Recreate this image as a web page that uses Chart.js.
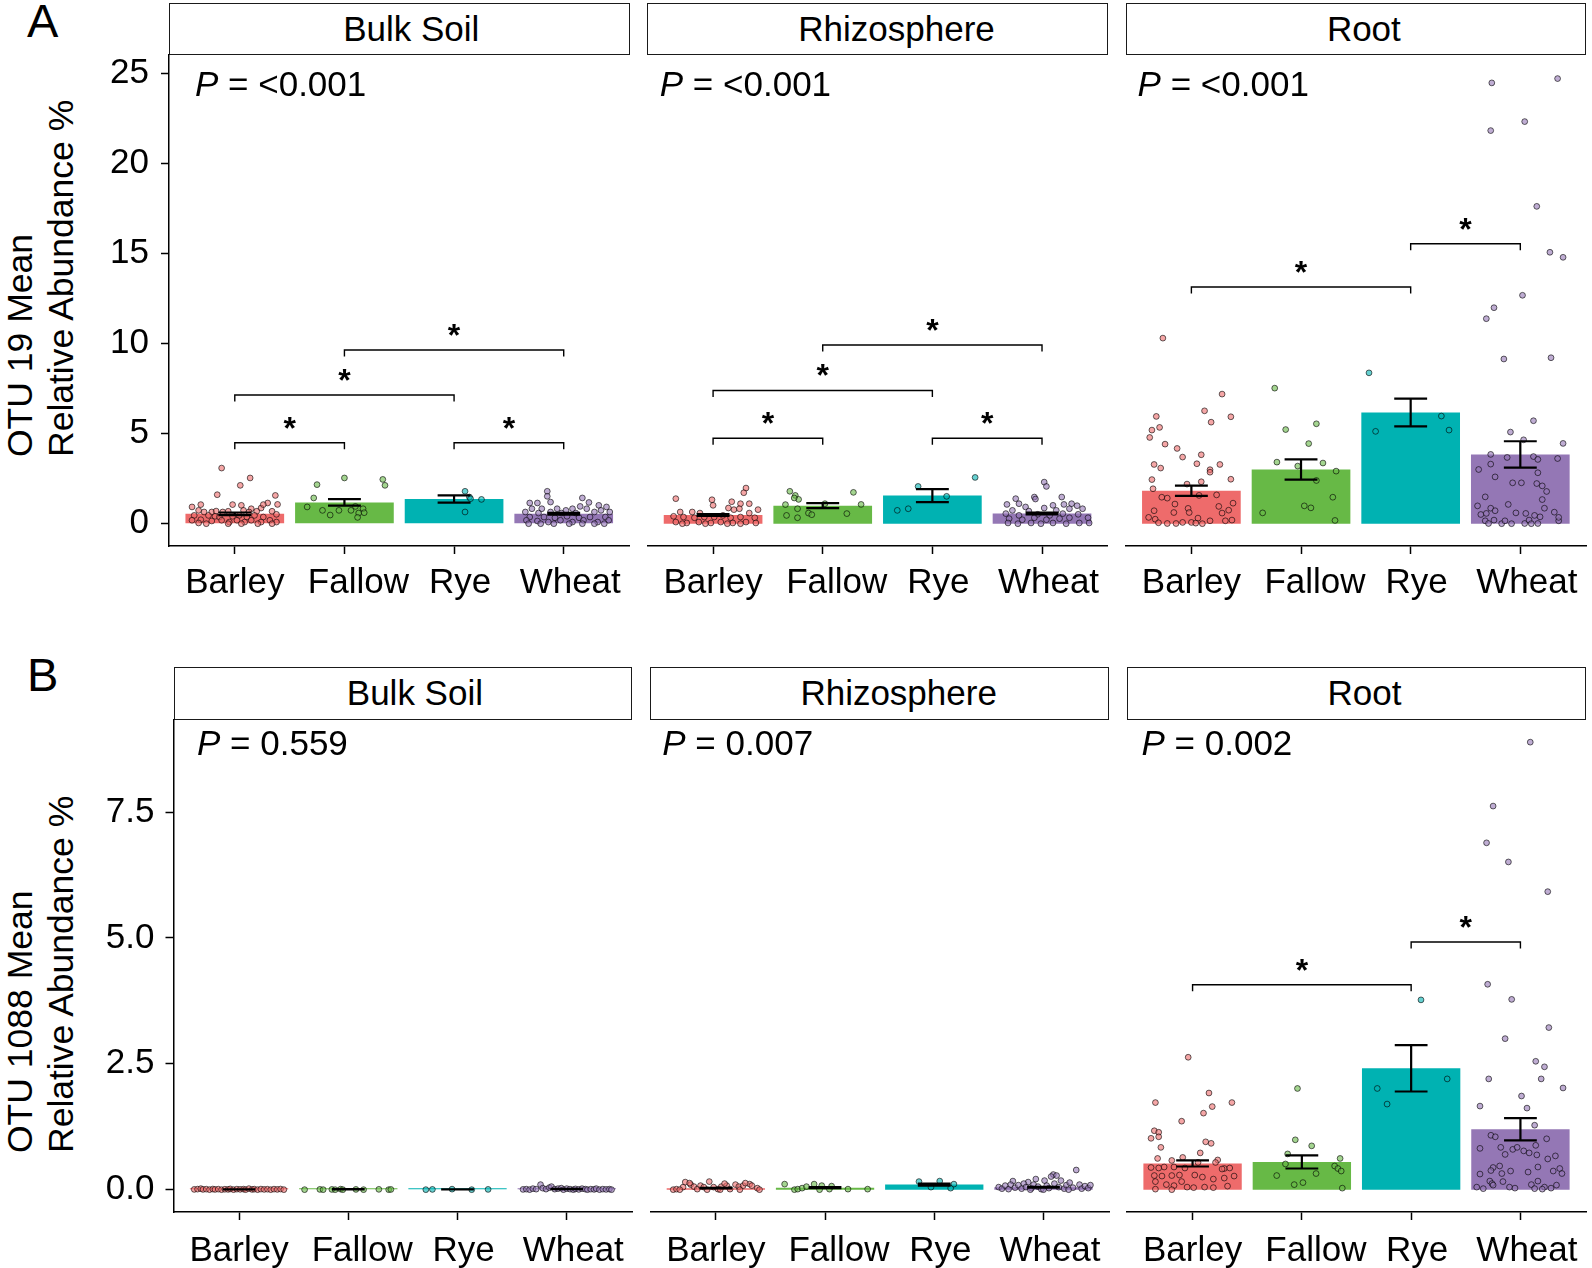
<!DOCTYPE html>
<html>
<head>
<meta charset="utf-8">
<script src="https://cdn.jsdelivr.net/npm/chart.js@4.4.1/dist/chart.umd.min.js"></script>
<style>
html,body{margin:0;padding:0;background:#fff;}
body{width:1592px;height:1268px;position:relative;overflow:hidden;font-family:'Liberation Sans',Arial,Helvetica,sans-serif;color:#000;}
.strip{position:absolute;box-sizing:border-box;border:1.5px solid #1a1a1a;background:#fff;text-align:center;font-size:35px;}
.letter{position:absolute;font-size:47px;line-height:47px;}
.ytitle{position:absolute;transform-origin:0 0;transform:rotate(-90deg);white-space:pre;font-size:35.5px;line-height:41px;text-align:left;}
canvas{position:absolute;}
</style>
</head>
<body>
<script>
// ---------------- data ----------------
const categories = ['Barley', 'Fallow', 'Rye', 'Wheat'];
const compartments = ['Bulk Soil', 'Rhizosphere', 'Root'];

// OTU 19 (A)
const otu19Ticks = [0, 5, 10, 15, 20, 25];
const otu19TickLabels = ['0', '5', '10', '15', '20', '25'];
const otu19Means = [[0.55, 1.18, 1.37, 0.55], [0.48, 1.0, 1.56, 0.56], [1.83, 3.01, 6.18, 3.85]];
const otu19SE = [[0.07, 0.18, 0.2, 0.05], [0.05, 0.14, 0.36, 0.05], [0.28, 0.56, 0.77, 0.73]];
const otu19P = ['<0.001', '<0.001', '<0.001'];
// [group a, group b, bracket height]
const otu19Brackets = [
  [[0, 1, 4.5], [2, 3, 4.5], [0, 2, 7.15], [1, 3, 9.65]],
  [[0, 1, 4.75], [2, 3, 4.75], [0, 2, 7.4], [1, 3, 9.93]],
  [[0, 2, 13.15], [2, 3, 15.55]]
];

// OTU 1088 (B)
const otu1088Ticks = [0, 2.5, 5, 7.5];
const otu1088TickLabels = ['0.0', '2.5', '5.0', '7.5'];
const otu1088Means = [[0.006, 0.008, 0.005, 0.012], [0.03, 0.04, 0.1, 0.05], [0.52, 0.55, 2.41, 1.2]];
const otu1088SE = [[0.001, 0.002, 0.002, 0.003], [0.005, 0.01, 0.02, 0.008], [0.06, 0.13, 0.46, 0.22]];
const otu1088P = ['0.559', '0.007', '0.002'];
const otu1088Brackets = [[], [], [[0, 2, 4.07], [2, 3, 4.92]]];

// individual samples: [jitter offset from the category, relative abundance %]
const otu19BulkPts = [
  [[-0.12,3.09],[0.14,2.54],[0.05,2.13],[-0.16,1.61],[0.37,1.57],[0.3,1.15],[0.39,1.07],[-0.39,0.93],[-0.31,1.06],[-0.02,1.06],[0.06,1.02],[0.15,0.83],[0.24,0.87],[0.26,1.06],[-0.33,0.74],[-0.28,0.65],[-0.21,0.65],[-0.17,0.7],[-0.11,0.65],[-0.06,0.69],[0.08,0.74],[0.13,0.65],[0.2,0.69],[0.34,0.69],[-0.37,0.46],[-0.24,0.46],[-0.18,0.41],[-0.14,0.37],[-0.02,0.41],[0.04,0.46],[0.11,0.37],[0.18,0.46],[0.26,0.37],[0.38,0.52],[-0.39,0.19],[-0.31,0.22],[-0.21,0.15],[-0.12,0.19],[-0.05,0.09],[0.02,0.19],[0.09,0.09],[0.15,0.19],[0.24,0.09],[0.32,0.19],[0.38,0.09],[-0.26,0],[-0.06,0],[0.06,0],[0.21,0],[0.34,0],[-0.33,0.04]],
  [[0,2.54],[0.35,2.46],[0.37,2.13],[-0.25,2.17],[-0.28,1.43],[-0.34,0.93],[0.1,0.96],[0.17,0.83],[-0.2,0.74],[-0.05,0.74],[0.06,0.74],[0.13,0.59],[-0.13,0.48],[0.12,0.35],[0.18,0.61]],
  [[0.1,1.8],[0.14,1.48],[0.25,1.35],[0.15,1.39],[0.1,0.65]],
  [[-0.15,1.8],[-0.15,1.52],[-0.24,1.15],[-0.31,1.15],[-0.12,1.2],[0.17,1.43],[0.23,1.18],[0.32,1.02],[0.39,0.93],[0.08,0.83],[0.15,0.96],[0.21,0.83],[-0.29,0.83],[-0.2,0.83],[-0.06,0.83],[0.02,0.74],[0.34,0.74],[-0.35,0.65],[-0.23,0.59],[-0.12,0.65],[-0.02,0.59],[0.11,0.59],[0.28,0.65],[0.42,0.65],[-0.31,0.37],[-0.18,0.37],[-0.08,0.33],[0.03,0.41],[0.14,0.33],[0.24,0.37],[0.38,0.37],[-0.34,0.19],[-0.24,0.15],[-0.14,0.09],[-0.03,0.19],[0.08,0.09],[0.18,0.19],[0.31,0.09],[0.41,0.19],[-0.32,0],[-0.21,0],[-0.09,0],[0.05,0],[0.17,0],[0.28,0],[0.37,0]]
];
const otu19RhizoPts = [
  [[0.3,1.98],[0.28,1.72],[-0.34,1.39],[-0.01,1.33],[0,1.02],[0.17,1.22],[0.25,1.11],[0.33,1.11],[0.41,0.78],[-0.3,0.65],[-0.19,0.65],[-0.12,0.59],[0.14,0.87],[0.19,0.78],[0.24,0.83],[0.33,0.59],[-0.36,0.41],[-0.27,0.37],[-0.17,0.33],[-0.08,0.37],[0.01,0.37],[0.09,0.46],[0.16,0.33],[0.25,0.37],[0.38,0.33],[-0.34,0.09],[-0.24,0.04],[-0.13,0.09],[-0.02,0.04],[0.07,0.09],[0.18,0.04],[0.3,0.09],[0.39,0.04],[-0.28,0],[-0.07,0],[0.13,0],[0.25,0]],
  [[-0.3,1.8],[-0.25,1.57],[-0.22,1.35],[-0.26,1.43],[0.28,1.74],[-0.34,1.06],[0.35,1.07],[-0.23,0.83],[0.02,1.11],[-0.33,0.46],[-0.23,0.33],[-0.13,0.59],[-0.1,0.5],[0.22,0.56]],
  [[0.39,2.57],[-0.13,2.07],[0.13,1.52],[-0.32,0.74],[-0.22,0.83]],
  [[0.02,2.31],[0.04,2.07],[-0.07,1.48],[-0.06,1.37],[-0.24,1.39],[-0.21,1.11],[-0.32,1.07],[0.18,1.48],[0.2,1.07],[0.27,1.11],[0.32,1.0],[0.1,1.02],[-0.15,0.93],[0.02,0.87],[-0.27,0.74],[-0.12,0.7],[0.13,0.74],[0.25,0.83],[0.37,0.83],[-0.33,0.56],[-0.21,0.46],[-0.04,0.52],[0.07,0.46],[0.19,0.56],[0.33,0.52],[-0.3,0.28],[-0.18,0.22],[-0.07,0.33],[0.04,0.22],[0.16,0.28],[0.25,0.33],[0.42,0.33],[-0.31,0.04],[-0.22,0],[-0.1,0.04],[-0.01,0],[0.1,0.04],[0.22,0],[0.34,0.04],[0.43,0.04]]
];
const otu19RootPts = [
  [[-0.26,10.31],[0.28,7.2],[0.12,6.27],[0.18,5.64],[0.36,5.94],[-0.32,5.96],[-0.36,5.2],[-0.29,5.35],[-0.38,4.79],[-0.24,4.42],[-0.13,4.18],[-0.08,3.7],[0.09,3.83],[-0.34,3.29],[-0.28,3.09],[0.05,3.33],[0.17,3.0],[0.26,3.29],[0.17,2.86],[-0.36,2.45],[-0.04,2.2],[0.09,2.33],[0.36,2.47],[-0.35,1.94],[-0.27,1.47],[-0.22,1.42],[-0.15,1.09],[0.07,1.57],[0.23,1.6],[-0.39,0.35],[-0.33,0.25],[-0.3,0.05],[-0.22,0.01],[-0.16,0.62],[-0.08,0.07],[-0.03,0.85],[-0.02,0.62],[0,0.07],[0.06,0.31],[0.1,0],[0.17,0.16],[0.25,0.96],[0.28,0.59],[0.31,0.16],[0.34,0.75],[0.38,1.14],[0.37,0.2],[0.04,0.03],[-0.34,0.72],[-0.14,0.01]],
  [[-0.24,7.53],[0.14,5.55],[-0.14,5.23],[0.07,4.45],[-0.22,3.42],[-0.03,3.2],[0.2,3.37],[0.32,2.92],[0.14,2.4],[0.29,1.47],[0.03,0.99],[0.09,0.88],[-0.35,0.6],[0.31,0.18]],
  [[-0.38,8.38],[0.28,5.98],[-0.32,5.13],[0.35,5.2]],
  [[-0.26,24.49],[0.34,24.73],[-0.27,21.84],[0.04,22.34],[0.15,17.63],[0.27,15.08],[0.39,14.8],[0.02,12.69],[-0.24,12.0],[-0.31,11.39],[-0.15,9.15],[0.28,9.22],[0.12,5.72],[-0.09,5.09],[0.03,4.66],[0.39,4.46],[-0.27,3.85],[-0.12,3.68],[0.12,3.73],[0.16,3.57],[0.34,3.62],[-0.27,3.31],[-0.38,3.01],[0.16,2.83],[-0.23,2.6],[-0.07,2.27],[0.01,2.27],[0.15,2.23],[0.2,2.1],[0.24,1.79],[-0.32,1.49],[0.2,1.34],[-0.11,1.07],[-0.39,0.99],[-0.27,0.86],[-0.23,0.72],[-0.36,0.51],[-0.31,0.57],[0.22,0.86],[-0.04,0.6],[0.05,0.57],[0.13,0.46],[0.31,0.64],[-0.32,0.16],[-0.29,0.01],[-0.24,0.2],[-0.17,0],[-0.14,0.16],[-0.08,0],[0.04,0.01],[0.08,0.2],[0.1,0],[0.16,0.01],[0.18,0.38],[0.35,0.16],[0.35,0.35]]
];
const otu1088BulkPts = [
  [[-0.41,0.005],[-0.38,0.01],[-0.35,0.02],[-0.33,0.005],[-0.3,0.01],[-0.27,0.0],[-0.24,0.012],[-0.22,0.004],[-0.19,0.01],[-0.16,0.0],[-0.13,0.008],[-0.1,0.005],[-0.08,0.015],[-0.05,0.0],[-0.02,0.01],[0.01,0.006],[0.04,0.01],[0.06,0.0],[0.09,0.02],[0.12,0.004],[0.14,0.01],[0.17,0.0],[0.2,0.011],[0.23,0.005],[0.26,0.009],[0.29,0.0],[0.32,0.01],[0.35,0.005],[0.38,0.012],[0.41,0.0]],
  [[-0.4,0],[-0.26,0.005],[-0.23,0],[-0.15,0.004],[-0.12,0],[-0.07,0.01],[-0.05,0],[0.07,0.005],[0.14,0],[0.28,0.006],[0.37,0],[0.39,0.004]],
  [[-0.29,0],[-0.23,0.005],[-0.05,0.01],[0.13,0],[0.28,0.005]],
  [[-0.4,0.005],[-0.37,0.01],[-0.34,0.0],[-0.31,0.02],[-0.28,0.01],[-0.24,0.1],[-0.22,0.03],[-0.19,0.01],[-0.16,0.04],[-0.14,0.06],[-0.11,0.01],[-0.08,0.02],[-0.05,0.03],[-0.03,0.0],[0.0,0.02],[0.03,0.01],[0.06,0.0],[0.08,0.015],[0.11,0.005],[0.14,0.02],[0.17,0.01],[0.19,0.0],[0.22,0.01],[0.25,0.005],[0.27,0.02],[0.3,0.0],[0.33,0.01],[0.36,0.005],[0.39,0.01],[0.41,0.0]]
];
const otu1088RhizoPts = [
  [[-0.39,0],[-0.36,0.01],[-0.3,0.05],[-0.28,0.15],[-0.23,0.1],[-0.2,0.06],[-0.17,0.01],[-0.14,0.08],[-0.11,0.05],[-0.06,0.16],[-0.02,0.05],[0.02,0.01],[0.05,0.06],[0.1,0.08],[0.13,0.01],[0.18,0.1],[0.21,0.06],[0.25,0.08],[0.31,0.11],[0.33,0.08],[0.38,0.03],[0.4,0],[-0.33,0],[-0.08,0],[0.04,0],[0.22,0],[-0.24,0.13],[0.08,0.12],[0.27,0.13]],
  [[-0.37,0.11],[-0.28,0],[-0.25,0.01],[-0.21,0.03],[-0.17,0.06],[-0.1,0.11],[-0.05,0],[-0.03,0.08],[0.04,0.01],[0.06,0.07],[0.21,0.01],[0.39,0.01]],
  [[-0.14,0.16],[-0.03,0.05],[0.05,0.17],[0.15,0.03],[0.18,0.11]],
  [[0.3,0.39],[0.09,0.3],[0.12,0.28],[0.07,0.26],[-0.07,0.21],[0.01,0.18],[-0.28,0.17],[-0.14,0.15],[-0.41,0.05],[-0.38,0.02],[-0.35,0.08],[-0.32,0.01],[-0.3,0.1],[-0.26,0.04],[-0.23,0.09],[-0.2,0.02],[-0.18,0.12],[-0.16,0.05],[-0.11,0.03],[-0.09,0.1],[-0.05,0.06],[-0.02,0.01],[0.03,0.08],[0.05,0.03],[0.1,0.12],[0.14,0.05],[0.16,0.18],[0.19,0.02],[0.21,0.09],[0.24,0.14],[0.27,0.04],[0.33,0.1],[0.35,0.02],[0.38,0.07],[0.41,0.03],[0.43,0.09],[-0.12,0.0],[0.0,0.0],[0.23,0.0]]
];
const otu1088RootPts = [
  [[-0.04,2.63],[0.15,1.92],[-0.34,1.73],[0.36,1.73],[0.18,1.65],[0.1,1.52],[-0.1,1.36],[-0.35,1.17],[-0.31,1.14],[-0.38,1.02],[-0.31,1.05],[0.12,0.95],[0.17,0.92],[-0.29,0.84],[0.07,0.73],[-0.32,0.62],[-0.09,0.64],[0.23,0.59],[0.21,0.54],[0.05,0.54],[-0.19,0.58],[-0.38,0.44],[-0.31,0.43],[-0.26,0.45],[-0.17,0.45],[-0.07,0.43],[0.29,0.42],[0.34,0.43],[0.27,0.41],[-0.35,0.28],[-0.28,0.27],[-0.19,0.28],[-0.12,0.29],[0.02,0.29],[0.09,0.25],[0.19,0.21],[0.29,0.23],[0.38,0.27],[-0.34,0.16],[-0.24,0.1],[-0.17,0.08],[-0.1,0.16],[-0.05,0.05],[0.01,0.04],[0.11,0.05],[0.19,0.04],[0.32,0.07],[-0.34,0.01],[-0.19,0]],
  [[-0.04,2.01],[-0.06,0.99],[0.09,0.87],[-0.13,0.71],[0.35,0.62],[-0.15,0.51],[0.3,0.47],[0.33,0.42],[0.36,0.37],[-0.23,0.28],[0.13,0.32],[0.01,0.14],[-0.07,0.1],[0.37,0.03]],
  [[0.09,3.77],[0.33,2.2],[-0.31,2.01],[-0.22,1.7]],
  [[0.09,8.89],[-0.25,7.62],[-0.31,6.89],[-0.11,6.51],[0.25,5.92],[-0.3,4.08],[-0.08,3.78],[0.26,3.22],[-0.14,3.0],[0.14,2.55],[0.22,2.44],[-0.29,2.2],[0.19,2.2],[0.39,2.02],[0.01,1.86],[-0.37,1.66],[0.06,1.62],[0.13,1.28],[-0.27,1.08],[-0.23,1.05],[0.24,1.01],[-0.37,0.82],[-0.18,0.84],[-0.14,0.7],[-0.07,0.8],[-0.03,0.84],[0.03,0.77],[0.08,0.73],[0.14,0.88],[0.15,0.69],[0.25,0.61],[0.32,0.67],[-0.25,0.44],[-0.19,0.47],[-0.27,0.38],[-0.09,0.37],[0.07,0.35],[0.16,0.45],[0.3,0.37],[0.36,0.42],[-0.37,0.31],[-0.17,0.32],[0.38,0.32],[-0.28,0.17],[-0.26,0.12],[-0.16,0.16],[-0.1,0.05],[-0.05,0.03],[0.1,0.1],[0.16,0.17],[0.22,0.05],[0.28,0.03],[0.33,0.09],[-0.4,0.05],[-0.34,0.02],[-0.25,0.09],[0.13,0.02],[0.2,0.01]]
];

// ---------------- styling / layout ----------------
const FF = "'Liberation Sans', Arial, Helvetica, sans-serif";
const BAR_COLORS = ['#EE6B6B', '#67B946', '#00B2B2', '#9477B5'];
const PT_FILLS = ['rgba(238,107,107,0.6)', 'rgba(103,185,70,0.6)', 'rgba(0,178,178,0.6)', 'rgba(148,119,181,0.6)'];
const X_LABEL_SHIFT_PX = [0, 14, 6, 6.5];   // label placement as in the reference
const STRIP_SHIFT_PX = [12, 19, 8];

const ROWS = [
  { letter: 'A', letterLeft: 27, letterTop: -3.2, stripTop: 2.7, top: 55, bottom: 546,
    cols: [[169, 629.5], [647.3, 1107.8], [1125.6, 1586.1]],
    min: -1.24, max: 26.04, ytp: 12, pdy: 31.5, pdx: [26, 12.5, 12], xlp: 8,
    title: 'OTU 19 Mean\nRelative Abundance %', titleBottom: 457,
    ticks: otu19Ticks, tickLabels: otu19TickLabels, means: otu19Means, se: otu19SE, p: otu19P,
    brackets: otu19Brackets, points: [otu19BulkPts, otu19RhizoPts, otu19RootPts] },
  { letter: 'B', letterLeft: 27, letterTop: 650.8, stripTop: 666.7, top: 720, bottom: 1212,
    cols: [[173.5, 632.3], [650.3, 1109], [1127, 1586]],
    min: -0.444, max: 9.33, ytp: 11, pdy: 25, pdx: [23.5, 12, 14.5], xlp: 10,
    title: 'OTU 1088 Mean\nRelative Abundance %', titleBottom: 1153,
    ticks: otu1088Ticks, tickLabels: otu1088TickLabels, means: otu1088Means, se: otu1088SE, p: otu1088P,
    brackets: otu1088Brackets, points: [otu1088BulkPts, otu1088RhizoPts, otu1088RootPts] }
];

function addDiv(cls, text, css) {
  const d = document.createElement('div');
  d.className = cls; d.textContent = text;
  Object.assign(d.style, css);
  document.body.appendChild(d);
  return d;
}

function makeAnnot(g, c) {
  return {
    id: 'annot' + c,
    afterDatasetsDraw(chart) {
      const { ctx, chartArea } = chart;
      const x = chart.scales.x, y = chart.scales.y;
      const means = g.means[c], se = g.se[c];
      ctx.save();
      // error bars
      ctx.strokeStyle = '#000';
      ctx.lineWidth = 2.2;
      means.forEach((m, i) => {
        const x0 = x.getPixelForValue(i - 0.15), x1 = x.getPixelForValue(i + 0.15), xc = x.getPixelForValue(i);
        const yt = y.getPixelForValue(m + se[i]), yb = y.getPixelForValue(m - se[i]);
        ctx.beginPath();
        ctx.moveTo(x0, yt); ctx.lineTo(x1, yt);
        ctx.moveTo(xc, yt); ctx.lineTo(xc, yb);
        ctx.moveTo(x0, yb); ctx.lineTo(x1, yb);
        ctx.stroke();
      });
      // significance brackets
      ctx.lineWidth = 1.4;
      ctx.fillStyle = '#000';
      ctx.font = 'bold 32px ' + FF;
      ctx.textAlign = 'center';
      ctx.textBaseline = 'alphabetic';
      g.brackets[c].forEach(([a, b, h]) => {
        const xa = x.getPixelForValue(a), xb = x.getPixelForValue(b), yh = y.getPixelForValue(h);
        ctx.beginPath();
        ctx.moveTo(xa, yh + 6.5); ctx.lineTo(xa, yh); ctx.lineTo(xb, yh); ctx.lineTo(xb, yh + 6.5);
        ctx.stroke();
        ctx.fillText('*', (xa + xb) / 2, yh - 4);
      });
      // P value label
      ctx.textAlign = 'left';
      ctx.textBaseline = 'middle';
      let px = chartArea.left + g.pdx[c];
      const py = chartArea.top + g.pdy;
      ctx.font = 'italic 35px ' + FF;
      ctx.fillText('P', px, py);
      px += ctx.measureText('P').width;
      ctx.font = '35px ' + FF;
      ctx.fillText(' = ' + g.p[c], px, py);
      ctx.restore();
    }
  };
}

function makePanel(g, c) {
  const [L, R] = g.cols[c];
  const padT = 45, xAxisH = 75, tickLen = 8, extraR = 6;
  const canvasLeft = c === 0 ? 0 : Math.floor(L) - 60;
  const padL = c === 0 ? 0 : L - canvasLeft;
  const w = Math.ceil(R + extraR - canvasLeft);
  const padR = w - (R - canvasLeft);
  const h = padT + (g.bottom - g.top) + xAxisH;
  const unitPx = (R - L) / 4.2;
  const cv = document.createElement('canvas');
  cv.width = w; cv.height = h;
  cv.style.left = canvasLeft + 'px';
  cv.style.top = (g.top - padT) + 'px';
  cv.style.width = w + 'px'; cv.style.height = h + 'px';
  document.body.appendChild(cv);

  const datasets = [{
    type: 'bar', order: 10,
    data: g.means[c].map((m, i) => ({ x: i, y: m })),
    backgroundColor: BAR_COLORS, borderWidth: 0,
    barPercentage: 1, categoryPercentage: 0.9, minBarLength: 1.5
  }];
  g.points[c].forEach((grp, i) => {
    datasets.push({
      type: 'scatter', order: 0,
      data: grp.map(([j, v]) => ({ x: i + j, y: v })),
      pointRadius: 2.9, pointBorderWidth: 1,
      pointBackgroundColor: PT_FILLS[i], pointBorderColor: 'rgba(0,0,0,0.6)'
    });
  });

  const gridCfg = { display: true, drawOnChartArea: false, drawTicks: true, tickLength: tickLen, tickWidth: 1.5, tickColor: '#000', offset: false };
  const tickFont = { family: FF, size: 35 };
  new Chart(cv, {
    type: 'bar',
    data: { datasets },
    plugins: [makeAnnot(g, c)],
    options: {
      responsive: false, animation: false, devicePixelRatio: 1, events: [],
      layout: { padding: { left: padL, right: padR, top: padT, bottom: 0 } },
      plugins: { legend: { display: false }, tooltip: { enabled: false }, title: { display: false } },
      scales: {
        x: {
          type: 'linear', position: 'bottom', weight: 0, min: -0.6, max: 3.6, offset: false,
          afterBuildTicks: s => { s.ticks = categories.map((_, i) => ({ value: i })); },
          ticks: { display: false, autoSkip: false },
          grid: gridCfg,
          border: { display: true, color: '#000', width: 1.5 },
          afterFit: s => { s.height = tickLen; }
        },
        xl: {
          type: 'linear', position: 'bottom', weight: 1, min: -0.6, max: 3.6, offset: false,
          afterBuildTicks: s => { s.ticks = categories.map((_, i) => ({ value: i + X_LABEL_SHIFT_PX[i] / unitPx })); },
          ticks: { callback: (v, i) => categories[i], font: tickFont, color: '#000', padding: g.xlp, maxRotation: 0, minRotation: 0, autoSkip: false },
          grid: { display: false, drawTicks: false, drawOnChartArea: false },
          border: { display: false },
          afterFit: s => { s.height = xAxisH - tickLen; }
        },
        y: {
          display: c === 0, min: g.min, max: g.max,
          afterBuildTicks: s => { s.ticks = g.ticks.map(v => ({ value: v })); },
          ticks: { callback: (v, i) => g.tickLabels[i], font: tickFont, color: '#000', padding: g.ytp, autoSkip: false },
          grid: gridCfg,
          border: { display: true, color: '#000', width: 1.5 },
          afterFit: s => { s.width = c === 0 ? L - canvasLeft : 0; }
        }
      }
    }
  });
}

ROWS.forEach(g => {
  addDiv('letter', g.letter, { left: g.letterLeft + 'px', top: g.letterTop + 'px' });
  addDiv('ytitle', g.title, { left: '0px', top: g.titleBottom + 'px' });
  compartments.forEach((name, c) => {
    const [L, R] = g.cols[c];
    const hgt = g.top - g.stripTop;
    addDiv('strip', name, { left: L + 'px', top: g.stripTop + 'px', width: (R - L) + 'px', height: hgt + 'px', lineHeight: (hgt - 3) + 'px', paddingLeft: (2 * STRIP_SHIFT_PX[c]) + 'px' });
    makePanel(g, c);
  });
});
</script>
</body>
</html>
